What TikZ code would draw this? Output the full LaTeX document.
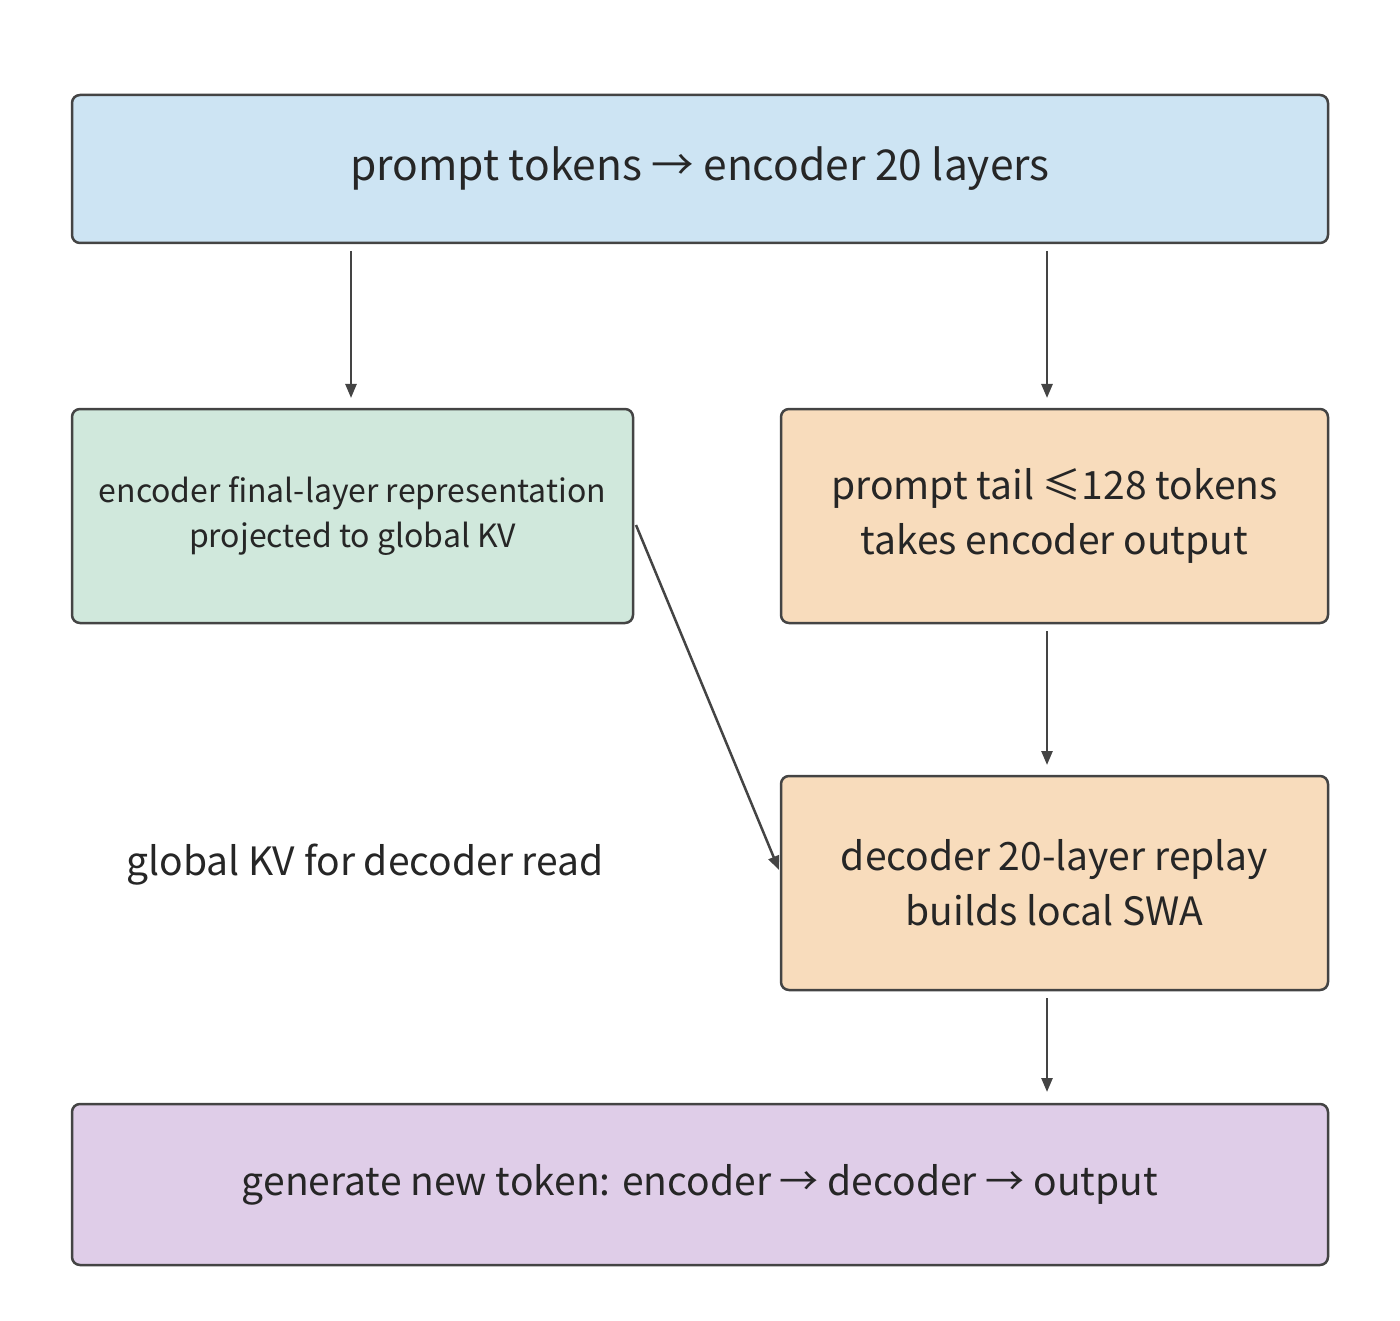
\documentclass[tikz,border=0pt]{standalone}
\usepackage{fontspec}
\setmainfont{Noto Sans CJK SC}
\usetikzlibrary{arrows.meta}
\definecolor{bblue}{HTML}{CDE4F3}
\definecolor{bgreen}{HTML}{D0E8DC}
\definecolor{borange}{HTML}{F8DCBC}
\definecolor{bpurple}{HTML}{DFCDE8}
\definecolor{edge}{HTML}{444444}
\begin{document}
\begin{tikzpicture}[x=1pt,y=-1pt,
  box/.style={draw=edge,line width=2.5pt,rounded corners=8pt,align=center,text=black!85,inner sep=0pt},
  arr/.style={draw=edge,line width=2.5pt,-{Triangle[length=14pt,width=11pt]}}]
\useasboundingbox (0,0) rectangle (1400,1321);
\node[box,fill=bblue,minimum width=1256pt,minimum height=148pt,font=\fontsize{42.5}{50}\selectfont] (top) at (700,169) {prompt tokens → encoder 20 layers};
\node[box,fill=bgreen,minimum width=561pt,minimum height=214pt,font=\fontsize{32}{45}\selectfont] (green) at (352.5,516) {encoder final-layer representation\\projected to global KV};
\node[box,fill=borange,minimum width=547pt,minimum height=214pt,font=\fontsize{39}{55}\selectfont] (or1) at (1054.5,516) {prompt tail ≤128 tokens\\takes encoder output};
\node[box,fill=borange,minimum width=547pt,minimum height=214pt,font=\fontsize{39}{55}\selectfont] (or2) at (1054.5,883) {decoder 20-layer replay\\builds local SWA};
\node[box,fill=bpurple,minimum width=1256pt,minimum height=161pt,font=\fontsize{39}{47}\selectfont] (pur) at (700,1184.5) {generate new token: encoder → decoder → output};
\node[font=\fontsize{39}{47}\selectfont,text=black!85] (lbl) at (365,865) {global KV for decoder read};
\coordinate (a1s) at (351,251); \coordinate (a1e) at (351,398);
\coordinate (a2s) at (1047,251); \coordinate (a2e) at (1047,398);
\coordinate (a3s) at (1047,631); \coordinate (a3e) at (1047,765);
\coordinate (a4s) at (1047,998); \coordinate (a4e) at (1047,1092);
\coordinate (d1) at (636,525); \coordinate (d2) at (779,870);
\draw[arr] (a1s) -- (a1e);
\draw[arr] (a2s) -- (a2e);
\draw[arr] (a3s) -- (a3e);
\draw[arr] (a4s) -- (a4e);
\draw[arr] (d1) -- (d2);
\end{tikzpicture}
\end{document}
